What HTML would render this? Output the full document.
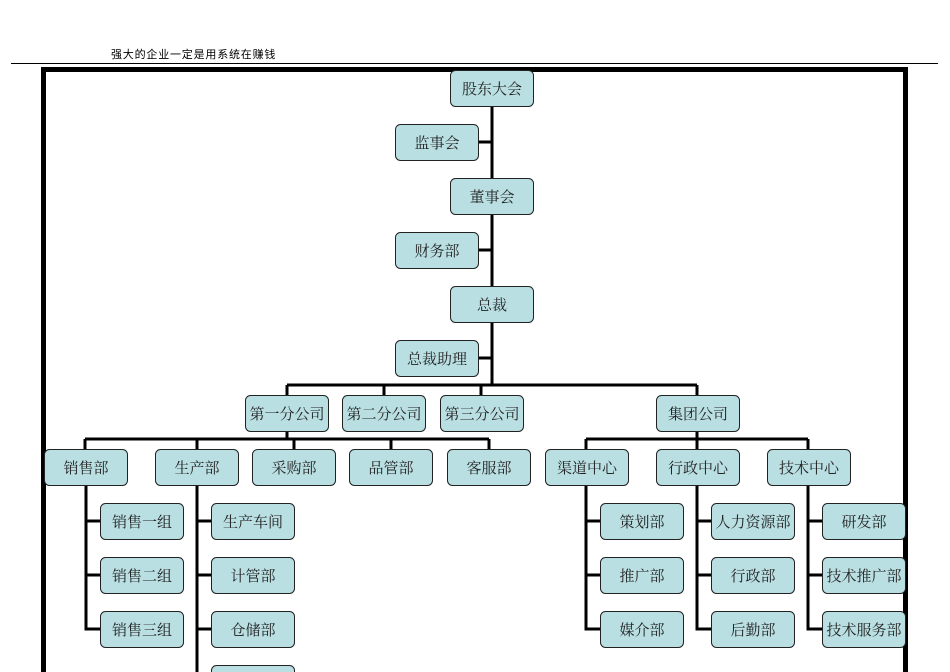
<!DOCTYPE html>
<html><head><meta charset="utf-8"><style>
html,body{margin:0;padding:0;background:#fff;width:950px;height:672px;overflow:hidden}
svg text{font-family:"Liberation Serif","Noto Serif CJK SC",serif;font-size:15px;fill:#222}
</style></head><body>
<svg width="950" height="672" xmlns="http://www.w3.org/2000/svg">
<text x="111" y="58" style="font-family:'Liberation Sans','Noto Sans CJK SC',sans-serif;font-size:11px;letter-spacing:0.8px;fill:#000">强大的企业一定是用系统在赚钱</text>
<line x1="11" y1="63.5" x2="938" y2="63.5" stroke="#000" stroke-width="1"/>
<path d="M43.5 680 V69.5 H905.5 V680" fill="none" stroke="#000" stroke-width="5"/>
<g stroke="#000" stroke-width="3" fill="none">
<path d="M492 106 V385"/>
<path d="M478 142 H492 M478 250 H492 M478 358 H492"/>
<path d="M287 385 H697 M287 385 V395 M384 385 V395 M481 385 V395 M697 385 V395"/>
<path d="M287 431 V439 M85 439 H489 M85 439 V449 M197 439 V449 M294 439 V449 M391 439 V449 M489 439 V449"/>
<path d="M697 431 V439 M586 439 H808 M586 439 V449 M697 439 V449 M808 439 V449"/>
<path d="M86 485 V629 H100 M86 521 H100 M86 575 H100"/>
<path d="M197 485 V680 M197 521 H211 M197 575 H211 M197 629 H211 M197 683 H211"/>
<path d="M586 485 V629 H600 M586 521 H600 M586 575 H600"/>
<path d="M697 485 V629 H711 M697 521 H711 M697 575 H711"/>
<path d="M808 485 V629 H822 M808 521 H822 M808 575 H822"/>
</g>
<g stroke="#222" stroke-width="1" fill="#b9dfe2">
<rect x="450.5" y="70.5" width="83" height="36" rx="5"/>
<rect x="395.5" y="124.5" width="83" height="36" rx="5"/>
<rect x="450.5" y="178.5" width="83" height="36" rx="5"/>
<rect x="395.5" y="232.5" width="83" height="36" rx="5"/>
<rect x="450.5" y="286.5" width="83" height="36" rx="5"/>
<rect x="395.5" y="340.5" width="83" height="36" rx="5"/>
<rect x="245.5" y="395.5" width="83" height="36" rx="5"/>
<rect x="342.5" y="395.5" width="83" height="36" rx="5"/>
<rect x="440.5" y="395.5" width="83" height="36" rx="5"/>
<rect x="656.5" y="395.5" width="83" height="36" rx="5"/>
<rect x="44.5" y="449.5" width="83" height="36" rx="5"/>
<rect x="155.5" y="449.5" width="83" height="36" rx="5"/>
<rect x="252.5" y="449.5" width="83" height="36" rx="5"/>
<rect x="349.5" y="449.5" width="83" height="36" rx="5"/>
<rect x="447.5" y="449.5" width="83" height="36" rx="5"/>
<rect x="545.5" y="449.5" width="83" height="36" rx="5"/>
<rect x="656.5" y="449.5" width="83" height="36" rx="5"/>
<rect x="767.5" y="449.5" width="83" height="36" rx="5"/>
<rect x="100.5" y="503.5" width="83" height="36" rx="5"/>
<rect x="100.5" y="557.5" width="83" height="36" rx="5"/>
<rect x="100.5" y="611.5" width="83" height="36" rx="5"/>
<rect x="211.5" y="503.5" width="83" height="36" rx="5"/>
<rect x="211.5" y="557.5" width="83" height="36" rx="5"/>
<rect x="211.5" y="611.5" width="83" height="36" rx="5"/>
<rect x="211.5" y="665.5" width="83" height="36" rx="5"/>
<rect x="600.5" y="503.5" width="83" height="36" rx="5"/>
<rect x="600.5" y="557.5" width="83" height="36" rx="5"/>
<rect x="600.5" y="611.5" width="83" height="36" rx="5"/>
<rect x="711.5" y="503.5" width="83" height="36" rx="5"/>
<rect x="711.5" y="557.5" width="83" height="36" rx="5"/>
<rect x="711.5" y="611.5" width="83" height="36" rx="5"/>
<rect x="822.5" y="503.5" width="83" height="36" rx="5"/>
<rect x="822.5" y="557.5" width="83" height="36" rx="5"/>
<rect x="822.5" y="611.5" width="83" height="36" rx="5"/>
</g>
<g text-anchor="middle">
<text x="492" y="94">股东大会</text>
<text x="437" y="148">监事会</text>
<text x="492" y="202">董事会</text>
<text x="437" y="256">财务部</text>
<text x="492" y="310">总裁</text>
<text x="437" y="364">总裁助理</text>
<text x="287" y="419">第一分公司</text>
<text x="384" y="419">第二分公司</text>
<text x="482" y="419">第三分公司</text>
<text x="698" y="419">集团公司</text>
<text x="86" y="473">销售部</text>
<text x="197" y="473">生产部</text>
<text x="294" y="473">采购部</text>
<text x="391" y="473">品管部</text>
<text x="489" y="473">客服部</text>
<text x="587" y="473">渠道中心</text>
<text x="698" y="473">行政中心</text>
<text x="809" y="473">技术中心</text>
<text x="142" y="527">销售一组</text>
<text x="142" y="581">销售二组</text>
<text x="142" y="635">销售三组</text>
<text x="253" y="527">生产车间</text>
<text x="253" y="581">计管部</text>
<text x="253" y="635">仓储部</text>
<text x="642" y="527">策划部</text>
<text x="642" y="581">推广部</text>
<text x="642" y="635">媒介部</text>
<text x="753" y="527">人力资源部</text>
<text x="753" y="581">行政部</text>
<text x="753" y="635">后勤部</text>
<text x="864" y="527">研发部</text>
<text x="864" y="581">技术推广部</text>
<text x="864" y="635">技术服务部</text>
</g>
</svg>
</body></html>
